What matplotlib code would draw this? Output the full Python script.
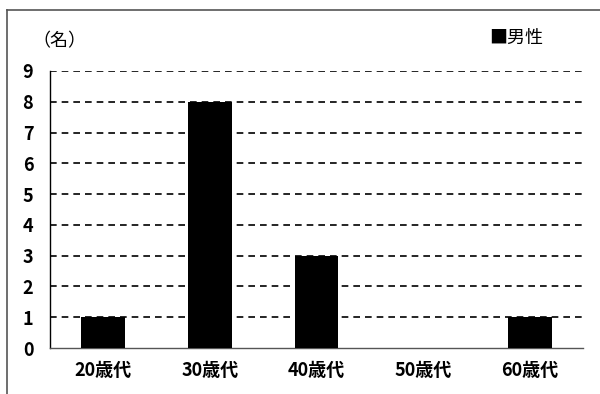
import matplotlib
matplotlib.use('Agg')
import matplotlib.pyplot as plt
from matplotlib.lines import Line2D

plt.rcParams['font.family'] = ['Noto Sans CJK JP', 'DejaVu Sans']

# data
categories = ['20歳代', '30歳代', '40歳代', '50歳代', '60歳代']
male = [1, 8, 3, 0, 1]
y_ticks = list(range(0, 10))

fig = plt.figure(figsize=(6.0, 3.94), dpi=100)
ax = fig.add_axes([50 / 600, 1 - 348 / 394, 533 / 600, 277 / 394])

x = range(len(categories))
ax.bar(x, male, width=0.41, color='black', zorder=3, label='男性')

ax.set_xlim(-0.5, len(categories) - 0.5)
ax.set_ylim(0, 9)
ax.set_yticks(y_ticks)
ax.set_xticks(list(x))
ax.set_xticklabels(categories)

# dashed gridlines
for yv in y_ticks[1:]:
    ax.axhline(yv, color='black', linewidth=1.2, linestyle=(0, (4, 3)), zorder=1)

for s in ['top', 'right']:
    ax.spines[s].set_visible(False)
ax.spines['left'].set_color('black')
ax.spines['bottom'].set_color('#555555')
ax.spines['left'].set_linewidth(1.0)
ax.spines['bottom'].set_linewidth(1.0)
ax.tick_params(axis='both', length=0, labelsize=13)
ax.tick_params(axis='y', pad=12)
ax.tick_params(axis='x', pad=9)
for lbl in ax.get_xticklabels() + ax.get_yticklabels():
    lbl.set_fontweight('bold')

# unit label and legend
fig.text(32 / 600, 1 - 41 / 394, '（名）', fontsize=13, va='center', ha='left')
fig.text(489 / 600, 1 - 38 / 394, '■男性', fontsize=13, va='center', ha='left')

# outer frame (top and left visible)
fig.add_artist(Line2D([7 / 600, 7 / 600], [0, 1 - 10 / 394], transform=fig.transFigure,
                      color='#555555', linewidth=1.2))
fig.add_artist(Line2D([7 / 600, 1], [1 - 10 / 394, 1 - 10 / 394], transform=fig.transFigure,
                      color='#555555', linewidth=1.2))

fig.savefig('out.png', dpi=100)
